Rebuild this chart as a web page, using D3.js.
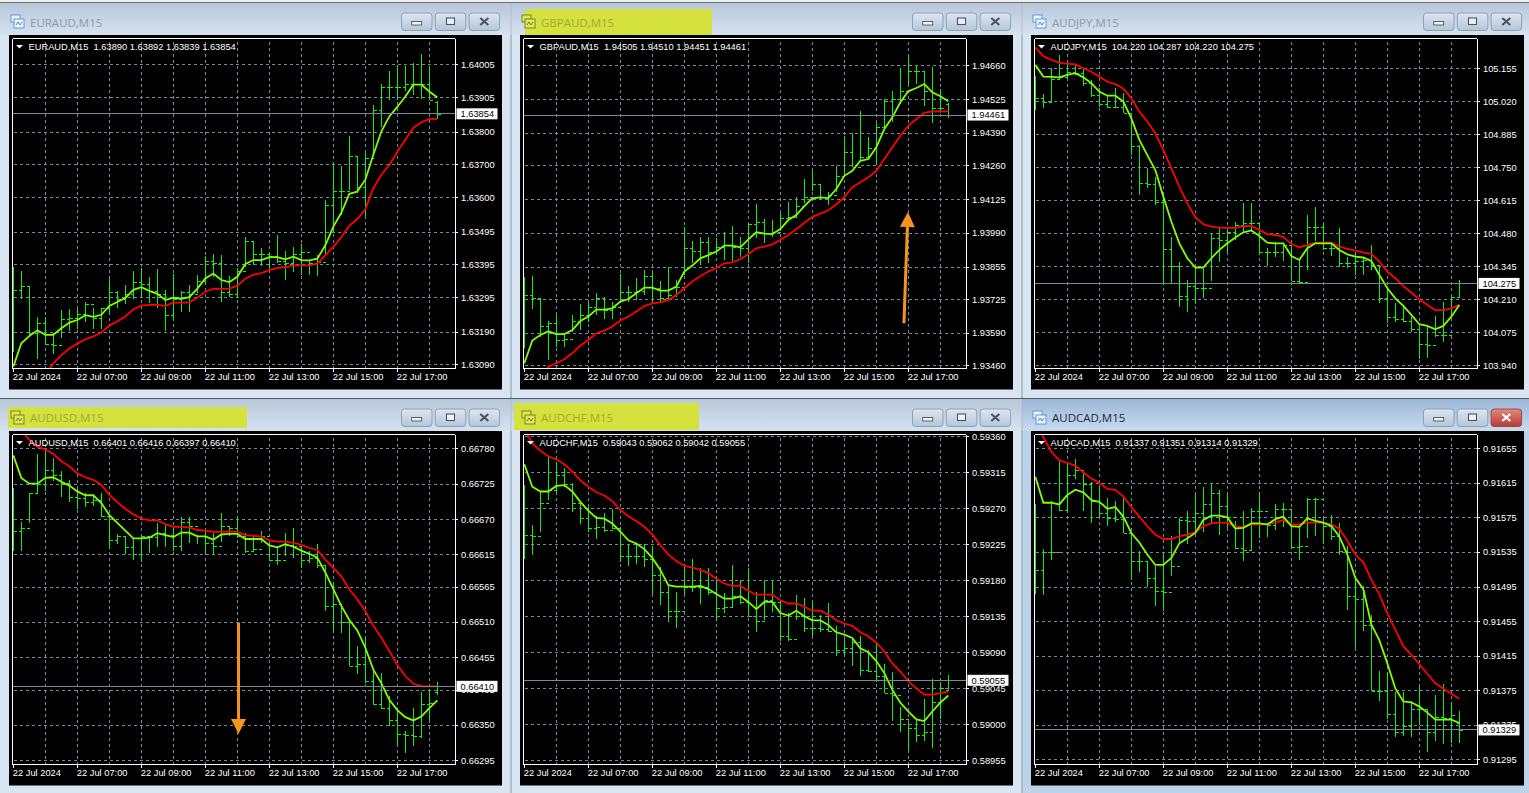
<!DOCTYPE html>
<html><head><meta charset="utf-8">
<style>
html,body{margin:0;padding:0;background:#d8e5f3;overflow:hidden}
svg{display:block}
text{font-family:"Liberation Sans",Arial,sans-serif}
.ax text{font-size:9.3px;fill:#fff;font-family:"Liberation Sans",Arial,sans-serif}
.ax line,.ax path{stroke:#fff;shape-rendering:crispEdges}
.grid line{stroke:#778899;stroke-dasharray:3 3;shape-rendering:crispEdges}
.grid path{display:none}
</style></head><body>
<svg id="c" width="1529" height="793"></svg>
<script src="https://cdn.jsdelivr.net/npm/d3@7"></script>
<script>
// Prices are stored as integer points (price = points / scale).
const barLabels=["22 Jul 2024","22 Jul 07:00","22 Jul 09:00","22 Jul 11:00","22 Jul 13:00","22 Jul 15:00","22 Jul 17:00"];
const labelBars=[0,8,16,24,32,40,48];
const gridBars=[4,8,12,16,20,24,28,32,36,40,44,48,52];

const eurHigh=[163388,163375,163329,163233,163233,163185,163256,163260,163260,163280,163261,163261,163351,163315,163331,163376,163383,163355,163381,163318,163365,163315,163331,163363,163420,163426,163423,163360,163383,163478,163465,163445,163428,163485,163435,163448,163458,163408,163423,163590,163700,163694,163785,163726,163737,163881,163945,163985,164003,164000,164010,164035,164000,163892];
const eurLow=[163129,163288,163179,163105,163151,163121,163170,163193,163198,163218,163198,163198,163243,163263,163273,163288,163293,163278,163263,163193,163221,163248,163248,163308,163333,163355,163281,163295,163291,163388,163393,163391,163370,163400,163348,163373,163361,163361,163358,163425,163490,163545,163622,163612,163540,163724,163815,163895,163895,163925,163912,163898,163895,163839];
const eurClose=[163316,163329,163184,163215,163151,163150,163228,163232,163243,163273,163230,163263,163310,163290,163305,163340,163335,163315,163305,163240,163290,163310,163303,163345,163405,163400,163310,163305,163375,163465,163425,163425,163420,163405,163400,163425,163433,163400,163402,163575,163620,163620,163725,163630,163720,163865,163935,163935,163935,163945,163945,163945,163897,163854];
const eurFast=[163083,163154,163176,163194,163180,163180,163200,163217,163225,163240,163235,163241,163268,163280,163292,163317,163325,163314,163305,163286,163293,163290,163295,163321,163352,163367,163347,163341,163357,163396,163408,163408,163417,163417,163410,163418,163408,163407,163412,163453,163510,163552,163610,163617,163653,163729,163800,163846,163875,163907,163943,163943,163922,163904];
const eurSlow=[162930,162960,162990,163020,163055,163093,163118,163138,163153,163166,163175,163187,163208,163221,163236,163258,163269,163271,163271,163268,163278,163278,163279,163293,163312,163320,163320,163321,163330,163351,163363,163368,163377,163384,163386,163392,163392,163392,163396,163423,163448,163478,163513,163533,163563,163627,163668,163698,163738,163775,163811,163828,163838,163839];
const eurTicks=[164005,163905,163800,163700,163600,163495,163395,163295,163190,163090];

const gbpHigh=[193812,193817,193728,193639,193661,193581,193661,193705,193712,193748,193732,193715,193825,193777,193808,193841,193831,193799,193852,193801,194015,193959,193972,193975,193968,193992,194019,193972,194028,194105,194045,194041,194068,194113,194132,194205,194238,194185,194152,194258,194376,194389,194478,194372,194429,194525,194556,194649,194694,194662,194634,194655,194565,194510];
const gbpLow=[193528,193685,193575,193481,193535,193535,193595,193601,193634,193661,193644,193644,193715,193715,193721,193741,193715,193715,193728,193735,193821,193868,193861,193868,193901,193881,193879,193892,193871,193968,193948,193975,194008,194041,194054,194108,194156,194125,194101,194152,194212,194252,194278,194285,194260,194414,194432,194507,194587,194587,194498,194428,194468,194451];
const gbpClose=[193741,193728,193617,193631,193561,193564,193637,193661,193695,193728,193681,193695,193755,193755,193759,193817,193768,193728,193741,193772,193928,193919,193955,193915,193935,193941,193935,193931,194025,194035,193988,193995,194049,194052,194097,194132,194185,194132,194140,194218,194312,194252,194292,194329,194414,194518,194525,194556,194638,194638,194556,194488,194489,194461];
const gbpFast=[193468,193559,193581,193596,193585,193585,193601,193637,193655,193683,193683,193688,193715,193725,193748,193771,193771,193759,193759,193775,193835,193859,193888,193901,193915,193939,193939,193932,193964,193992,193987,193985,194005,194041,194061,194097,194128,194132,194129,194165,194218,194238,194278,194285,194332,194405,194452,194512,194556,194569,194585,194552,194536,194516];
const gbpSlow=[193300,193340,193385,193455,193468,193484,193508,193539,193561,193588,193599,193615,193639,193655,193675,193697,193708,193712,193721,193741,193768,193795,193817,193835,193848,193868,193872,193884,193904,193928,193935,193944,193961,193981,194004,194030,194054,194067,194080,194104,194132,194172,194192,194212,194238,194285,194332,194378,194418,194445,194470,194476,194476,194476];
const gbpTicks=[194660,194525,194390,194260,194125,193990,193855,193725,193590,193460];

const jpyHigh=[105124,105049,105155,105210,105175,105169,105155,105107,105073,105046,105073,105053,104964,104841,104746,104712,104630,104464,104361,104289,104344,104344,104480,104500,104494,104525,104606,104606,104528,104419,104446,104439,104426,104378,104555,104587,104518,104446,104500,104385,104405,104385,104432,104350,104255,104194,104187,104136,104105,104098,104142,104198,104221,104287];
const jpyLow=[104985,104991,105019,105107,105114,105128,105084,105036,104995,104991,104995,104974,104800,104636,104664,104596,104275,104275,104180,104160,104190,104217,104286,104364,104405,104452,104487,104487,104401,104346,104385,104367,104286,104275,104330,104450,104412,104387,104344,104337,104310,104310,104330,104196,104115,104119,104119,104075,103965,103971,104057,104037,104139,104220];
const jpyClose=[105032,105019,105110,105121,105141,105135,105094,105046,105009,104998,104995,104974,104838,104687,104683,104610,104415,104346,104224,104265,104255,104255,104460,104453,104487,104514,104521,104524,104402,104402,104405,104432,104286,104282,104505,104505,104419,104421,104360,104360,104367,104371,104350,104214,104136,104130,104123,104087,104026,104023,104064,104064,104221,104275];
const jpyFast=[105169,105121,105120,105118,105128,105135,105118,105094,105060,105043,105043,105019,104950,104862,104800,104739,104630,104528,104439,104378,104340,104340,104378,104412,104439,104463,104484,104492,104469,104442,104439,104439,104387,104371,104419,104439,104439,104439,104412,104394,104385,104381,104367,104310,104255,104214,104183,104146,104108,104101,104087,104101,104139,104187];
const jpySlow=[105241,105205,105189,105178,105174,105171,105155,105141,105121,105100,105090,105073,105032,104978,104937,104889,104821,104746,104671,104603,104546,104517,104507,104503,104502,104502,104509,104510,104494,104477,104473,104466,104436,104423,104432,104442,104442,104442,104426,104416,104409,104402,104396,104364,104323,104296,104265,104237,104210,104187,104166,104166,104173,104187];
const jpyTicks=[105155,105020,104885,104750,104615,104480,104345,104210,104075,103940];

const usdHigh=[66718,66665,66711,66771,66774,66765,66745,66730,66716,66711,66708,66711,66674,66647,66643,66640,66646,66643,66664,66660,66659,66673,66673,66646,66651,66649,66679,66659,66673,66649,66643,66652,66633,66625,66649,66656,66625,66620,66631,66599,66572,66535,66514,66473,66486,66436,66431,66395,66376,66341,66376,66401,66406,66416];
const usdLow=[66620,66620,66664,66711,66713,66729,66704,66696,66686,66689,66690,66673,66623,66631,66616,66606,66603,66618,66626,66627,66620,66620,66633,66631,66616,66616,66635,66643,66641,66618,66620,66633,66605,66599,66613,66610,66594,66602,66594,66527,66493,66493,66441,66429,66415,66381,66375,66348,66319,66307,66318,66330,66357,66397];
const usdClose=[66651,66656,66710,66725,66746,66739,66726,66705,66703,66697,66700,66674,66638,66643,66627,66615,66643,66642,66648,66646,66628,66665,66659,66643,66633,66628,66659,66656,66643,66621,66623,66643,66607,66607,66630,66628,66607,66610,66599,66535,66538,66510,66442,66444,66418,66382,66376,66358,66336,66334,66332,66382,66384,66410];
const usdFast=[66769,66734,66725,66725,66734,66735,66728,66722,66713,66707,66707,66695,66676,66664,66652,66640,66640,66641,66648,66645,66642,66649,66649,66643,66643,66638,66646,66647,66647,66639,66639,66639,66629,66626,66631,66627,66621,66616,66610,66587,66561,66535,66513,66497,66470,66436,66415,66389,66373,66362,66357,66363,66376,66388];
const usdSlow=[66835,66808,66793,66783,66778,66771,66760,66752,66741,66735,66731,66723,66708,66696,66686,66677,66671,66668,66668,66662,66658,66658,66657,66653,66652,66650,66650,66651,66650,66645,66644,66643,66637,66635,66635,66633,66630,66625,66622,66607,66594,66581,66561,66545,66527,66504,66486,66465,66443,66426,66414,66410,66410,66410];
const usdTicks=[66780,66725,66670,66615,66565,66510,66455,66405,66350,66295];

const chfHigh=[59299,59249,59291,59335,59328,59321,59302,59279,59272,59260,59264,59269,59247,59225,59226,59226,59223,59197,59174,59166,59198,59207,59196,59195,59185,59164,59199,59180,59196,59165,59180,59180,59155,59139,59162,59158,59153,59137,59152,59123,59107,59107,59111,59093,59100,59075,59065,59022,59003,59005,59032,59057,59053,59062];
const chfLow=[59207,59212,59240,59280,59291,59297,59265,59250,59240,59232,59241,59244,59203,59198,59200,59197,59162,59149,59128,59121,59162,59166,59150,59162,59129,59139,59147,59151,59135,59115,59130,59141,59104,59104,59130,59115,59110,59116,59115,59085,59087,59073,59060,59065,59053,59039,59004,58991,58968,58978,58979,58971,59007,59042];
const chfClose=[59237,59235,59277,59293,59312,59301,59277,59258,59245,59247,59243,59245,59211,59211,59211,59207,59187,59166,59142,59142,59172,59172,59172,59166,59146,59147,59160,59153,59136,59129,59155,59153,59110,59107,59136,59121,59121,59119,59117,59093,59095,59103,59068,59067,59060,59039,59037,59007,58995,58987,58991,59028,59045,59055];
const chfFast=[59325,59297,59291,59291,59298,59299,59291,59278,59267,59258,59257,59251,59241,59230,59226,59219,59208,59193,59174,59172,59172,59172,59173,59169,59163,59157,59157,59160,59153,59144,59153,59153,59139,59136,59142,59135,59130,59130,59124,59115,59112,59108,59095,59090,59079,59064,59043,59027,59016,59006,59004,59016,59027,59036];
const chfSlow=[59370,59351,59342,59335,59331,59325,59316,59305,59297,59290,59286,59279,59268,59260,59254,59247,59237,59224,59212,59204,59198,59196,59193,59189,59182,59176,59173,59173,59167,59162,59162,59162,59155,59151,59151,59147,59142,59142,59137,59130,59126,59123,59115,59110,59102,59091,59076,59066,59054,59045,59037,59037,59039,59041];
const chfTicks=[59360,59315,59270,59225,59180,59135,59090,59045,59000,58955];

const cadHigh=[91590,91539,91594,91641,91638,91643,91626,91616,91612,91597,91594,91597,91558,91536,91524,91519,91533,91553,91574,91582,91602,91610,91615,91607,91601,91571,91582,91586,91604,91567,91591,91592,91584,91565,91597,91597,91574,91578,91568,91542,91506,91496,91462,91397,91396,91373,91373,91362,91379,91352,91370,91382,91361,91351];
const cadLow=[91486,91485,91526,91583,91584,91619,91583,91569,91576,91565,91570,91557,91502,91512,91495,91472,91467,91507,91544,91544,91558,91558,91569,91555,91563,91539,91524,91537,91551,91552,91561,91564,91539,91526,91551,91553,91544,91549,91532,91468,91424,91443,91374,91363,91342,91321,91322,91321,91335,91303,91316,91313,91314,91314];
const cadClose=[91514,91535,91535,91584,91624,91630,91614,91594,91580,91574,91573,91557,91525,91525,91505,91490,91489,91519,91572,91571,91580,91590,91603,91588,91576,91540,91537,91583,91582,91566,91585,91585,91541,91542,91596,91596,91565,91553,91536,91484,91480,91451,91374,91374,91347,91327,91334,91353,91353,91327,91344,91343,91346,91329];
const cadFast=[91622,91592,91592,91590,91601,91607,91604,91595,91593,91585,91587,91576,91557,91546,91532,91520,91520,91528,91545,91551,91557,91572,91577,91577,91575,91562,91563,91568,91568,91567,91573,91576,91565,91564,91574,91571,91569,91565,91553,91532,91505,91492,91451,91433,91406,91377,91362,91361,91356,91349,91341,91341,91341,91337];
const cadSlow=[91684,91668,91651,91641,91638,91635,91627,91620,91615,91608,91607,91599,91587,91576,91565,91555,91550,91550,91553,91555,91558,91565,91568,91569,91569,91564,91564,91567,91567,91567,91569,91572,91567,91567,91569,91569,91569,91567,91562,91548,91532,91523,91503,91486,91464,91445,91426,91416,91405,91394,91383,91377,91371,91365];
const cadTicks=[91655,91615,91575,91535,91495,91455,91415,91375,91335,91295];

const symbols=["EURAUD","GBPAUD","AUDJPY","AUDUSD","AUDCHF","AUDCAD"];
const headerOpen=[163890,194505,104220,66401,59043,91337];
const headerHigh=[163892,194510,104287,66416,59062,91351];
const headerLow=[163839,194451,104220,66397,59042,91314];
const headerClose=[163854,194461,104275,66410,59055,91329];
const scales=[1e5,1e5,1e3,1e5,1e5,1e5];
const digits=[5,5,3,5,5,5];
const highs=[eurHigh,gbpHigh,jpyHigh,usdHigh,chfHigh,cadHigh];
const lows=[eurLow,gbpLow,jpyLow,usdLow,chfLow,cadLow];
const closes=[eurClose,gbpClose,jpyClose,usdClose,chfClose,cadClose];
const fasts=[eurFast,gbpFast,jpyFast,usdFast,chfFast,cadFast];
const slows=[eurSlow,gbpSlow,jpySlow,usdSlow,chfSlow,cadSlow];
const ticks=[eurTicks,gbpTicks,jpyTicks,usdTicks,chfTicks,cadTicks];

// Layout (pixels): window frames and the anchor of each price axis.
const frames=[[0,3,510.5,395],[511.5,3,510,395],[1022.5,3,507,395],[0,399,510.5,394],[511.5,399,510,394],[1022.5,399,507,394]];
const plotX=[12.5,523.5,1034.5,12.5,523.5,1034.5];
const plotTop=[38.5,38.5,38.5,434.5,434.5,434.5];
const plotBot=[368.5,368.5,368.5,764.5,764.5,764.5];
const plotW=442.5, blackRight=489;
const titleBase=[24,24,24,23,23,23];
const yAnchorPx=[[364.3,64.3],[365.3,65.3],[365.3,68.3],[760.3,448.3],[760.3,436.3],[759.3,448.3]];
const highlight={1:[525,9,187,26],3:[8,407,239,21],4:[514,403,185,27]};
const activeFrame=5;
// Annotation arrows: [bar index, price points] from tail to tip, drawn on panel's scales.
const arrows={1:[[47.45,193628],[47.95,194073]],3:[[28.15,66509],[28.15,66336]]};

const svg=d3.select("#c");
const defs=svg.append("defs");
function grad(id,a,b){const g=defs.append("linearGradient").attr("id",id).attr("x1",0).attr("x2",0).attr("y1",0).attr("y2",1);
 g.append("stop").attr("offset",0).attr("stop-color",a);g.append("stop").attr("offset",1).attr("stop-color",b);}
grad("tInactive","#b8c8d9","#d5e2f0");grad("tActive","#9cb8d8","#c8dbf0");
grad("btn","#dbe6f2","#b6c6d8");grad("btnRed","#e08a80","#b83a30");

svg.append("rect").attr("width",1529).attr("height",793).attr("fill","#eef1f4");
svg.append("rect").attr("x",0).attr("y",2).attr("width",1529).attr("height",1.4).attr("fill","#6d6d6d");
svg.append("rect").attr("x",0).attr("y",397.6).attr("width",1529).attr("height",1.6).attr("fill","#5a5a5a");
svg.append("rect").attr("x",510.4).attr("y",3).attr("width",1.2).attr("height",790).attr("fill","#5a5a5a");
svg.append("rect").attr("x",1021.4).attr("y",3).attr("width",1.2).attr("height",790).attr("fill","#5a5a5a");

symbols.forEach((sym,p)=>{
 const [fx,fy,fw,fh]=frames[p];
 const left=plotX[p],top=plotTop[p],bot=plotBot[p],right=left+plotW;
 const active=p===activeFrame;
 const g=svg.append("g");
 g.append("rect").attr("x",fx).attr("y",fy).attr("width",fw).attr("height",fh).attr("fill",active?"#bcd3ea":"#d8e5f3");
 g.append("rect").attr("x",fx).attr("y",fy).attr("width",fw).attr("height",top-3.5-fy).attr("fill",active?"url(#tActive)":"url(#tInactive)");
 const hl=highlight[p];
 if(hl) g.append("rect").attr("x",hl[0]).attr("y",hl[1]).attr("width",hl[2]).attr("height",hl[3]).attr("fill","#d5e13c");
 const blackX=left-3.5;
 // title icon
 const ix=blackX+2;
 const iconStroke=hl?"#76851f":"#5f97d8", iconFill=hl?"#e0e85a":"#eef4fb", iconLine=hl?"#6b7a1a":"#4a7fbf";
 g.append("rect").attr("x",ix).attr("y",fy+12).attr("width",9).attr("height",7).attr("fill",iconFill).attr("stroke",iconStroke);
 g.append("rect").attr("x",ix+3).attr("y",fy+16).attr("width",10).attr("height",9).attr("fill",iconFill).attr("stroke",iconStroke);
 g.append("path").attr("d",`M${ix+5} ${fy+22}l2 -3l2 3l2 -3`).attr("fill","none").attr("stroke",iconLine);
 const titleCol=hl?"#a0ab35":(active?"#1f2a36":"#8d9aa8");
 g.append("text").attr("x",blackX+21).attr("y",fy+titleBase[p]).attr("font-size",11.5).attr("fill",titleCol).style("font-family","'Open Sans'").text(`${sym},M15`);
 // window buttons
 [0,1,2].forEach(b=>{
  const bx=blackX+392.5+33.8*b,by=fy+10;
  g.append("rect").attr("x",bx).attr("y",by).attr("width",30.5).attr("height",17.5).attr("rx",3)
   .attr("fill",active&&b===2?"url(#btnRed)":"url(#btn)").attr("stroke",active&&b===2?"#8e3a34":"#7f93aa").attr("stroke-width",.8);
  const cx=bx+15.2,cy=by+8.5,col=active&&b===2?"#fff":"#4c5661";
  if(b===0) g.append("rect").attr("x",cx-5).attr("y",cy).attr("width",10).attr("height",3.5).attr("fill","#eef2f6").attr("stroke",col).attr("stroke-width",.9);
  if(b===1) g.append("rect").attr("x",cx-4).attr("y",cy-3.5).attr("width",8).attr("height",6.5).attr("fill","#eef2f6").attr("stroke",col).attr("stroke-width",1.1);
  if(b===2) g.append("path").attr("d",`M${cx-4} ${cy-3.5}L${cx+4} ${cy+3.5}M${cx+4} ${cy-3.5}L${cx-4} ${cy+3.5}`).attr("stroke",col).attr("stroke-width",2.2);
 });
 // black chart area
 g.append("rect").attr("x",blackX).attr("y",top-3.5).attr("width",blackRight+3.5+.5).attr("height",bot-top+24.5).attr("fill","#000");

 const sc=scales[p],dg=digits[p];
 const fmt=v=>(v/sc).toFixed(dg);
 const tk=ticks[p];
 const x=d3.scaleLinear().domain([0,53]).range([left+.83,left+.83+424]);
 const y=d3.scaleLinear().domain([tk[tk.length-1],tk[0]]).range(yAnchorPx[p]);
 const cid="clip"+p;
 defs.append("clipPath").attr("id",cid).append("rect").attr("x",left).attr("y",top).attr("width",plotW).attr("height",bot-top);

 // grid
 g.append("g").attr("class","grid").attr("transform",`translate(${right},0)`)
  .call(d3.axisLeft(y).tickValues(tk).tickSize(plotW).tickFormat(""));
 g.append("g").attr("class","grid").attr("transform",`translate(0,${bot})`)
  .call(d3.axisTop(x).tickValues(gridBars).tickSize(bot-top).tickFormat(""));

 const plot=g.append("g").attr("clip-path",`url(#${cid})`);
 const hi=highs[p],lo=lows[p],cl=closes[p],fa=fasts[p],sl=slows[p];
 const barIdx=d3.range(hi.length);
 const opens=barIdx.map(i=>i===hi.length-1?headerOpen[p]:(i===0?cl[0]:cl[i-1]));
 const bars=plot.append("g").attr("stroke","#12ee12").attr("stroke-width",1).style("shape-rendering","crispEdges");
 const bx=i=>Math.round(x(i))+.5;
 bars.selectAll(".b").data(barIdx).join("line").attr("x1",bx).attr("x2",bx).attr("y1",i=>y(hi[i])).attr("y2",i=>y(lo[i]));
 bars.selectAll(".o").data(barIdx).join("line").attr("class","o").attr("x1",i=>bx(i)-3).attr("x2",bx).attr("y1",i=>Math.round(y(opens[i]))+.5).attr("y2",i=>Math.round(y(opens[i]))+.5);
 bars.selectAll(".c").data(barIdx).join("line").attr("class","c").attr("x1",bx).attr("x2",i=>bx(i)+3).attr("y1",i=>Math.round(y(cl[i]))+.5).attr("y2",i=>Math.round(y(cl[i]))+.5);
 const ln=d3.line().x((d,i)=>x(i)).y(d=>y(d));
 plot.append("path").datum(sl).attr("fill","none").attr("stroke","#ff0000").attr("stroke-width",1.8).attr("d",ln);
 plot.append("path").datum(fa).attr("fill","none").attr("stroke","#7fff00").attr("stroke-width",1.8).attr("d",ln);

 // last price line
 const last=headerClose[p];
 g.append("line").attr("x1",left).attr("x2",right).attr("y1",y(last)).attr("y2",y(last)).attr("stroke","#778899").attr("stroke-width",1).style("shape-rendering","crispEdges");

 // axes
 const ya=g.append("g").attr("class","ax").attr("transform",`translate(${right},0)`)
  .call(d3.axisRight(y).tickValues(tk).tickSize(3).tickPadding(3).tickFormat(fmt));
 ya.select(".domain").attr("d",`M0 ${top}V${bot}`);
 const xa=g.append("g").attr("class","ax").attr("transform",`translate(0,${bot})`)
  .call(d3.axisBottom(x).tickValues(labelBars).tickSize(3).tickPadding(2).tickFormat((d,i)=>barLabels[i]));
 xa.select(".domain").attr("d",`M${left} 0H${right}`);
 xa.selectAll("text").attr("text-anchor","start").attr("dx",-1);
 g.append("line").attr("x1",left).attr("x2",left).attr("y1",top).attr("y2",bot).attr("stroke","#fff").style("shape-rendering","crispEdges");
 g.append("line").attr("x1",left).attr("x2",right).attr("y1",top).attr("y2",top).attr("stroke","#fff").style("shape-rendering","crispEdges");

 // last price tag
 const ty=y(last);
 g.append("rect").attr("x",right+1.5).attr("y",ty-5.5).attr("width",41).attr("height",11).attr("fill","#fff");
 g.append("text").attr("x",right+5.5).attr("y",ty+3.4).attr("font-size",9.3).attr("fill","#000").text(fmt(last));

 // header
 g.append("path").attr("d",`M${left+3.5} ${top+6.5}h7l-3.5 3.6z`).attr("fill","#fff");
 g.append("text").attr("x",left+16).attr("y",top+11.6).attr("font-size",9.3).attr("fill","#fff").attr("xml:space","preserve")
  .text(`${sym},M15  ${fmt(headerOpen[p])} ${fmt(headerHigh[p])} ${fmt(headerLow[p])} ${fmt(headerClose[p])}`);

 // annotation arrow
 if(arrows[p]){
  const [a,b]=arrows[p];
  const x1=x(a[0]),y1=y(a[1]),x2=x(b[0]),y2=y(b[1]);
  const len=Math.hypot(x2-x1,y2-y1),ux=(x2-x1)/len,uy=(y2-y1)/len;
  const bxx=x2-ux*15,byy=y2-uy*15;
  g.append("line").attr("x1",x1).attr("y1",y1).attr("x2",bxx).attr("y2",byy).attr("stroke","#f7941e").attr("stroke-width",3);
  g.append("path").attr("d",`M${x2} ${y2}L${bxx-uy*7.5} ${byy+ux*7.5}L${bxx+uy*7.5} ${byy-ux*7.5}Z`).attr("fill","#f7941e");
 }
});
</script>
</body></html>
